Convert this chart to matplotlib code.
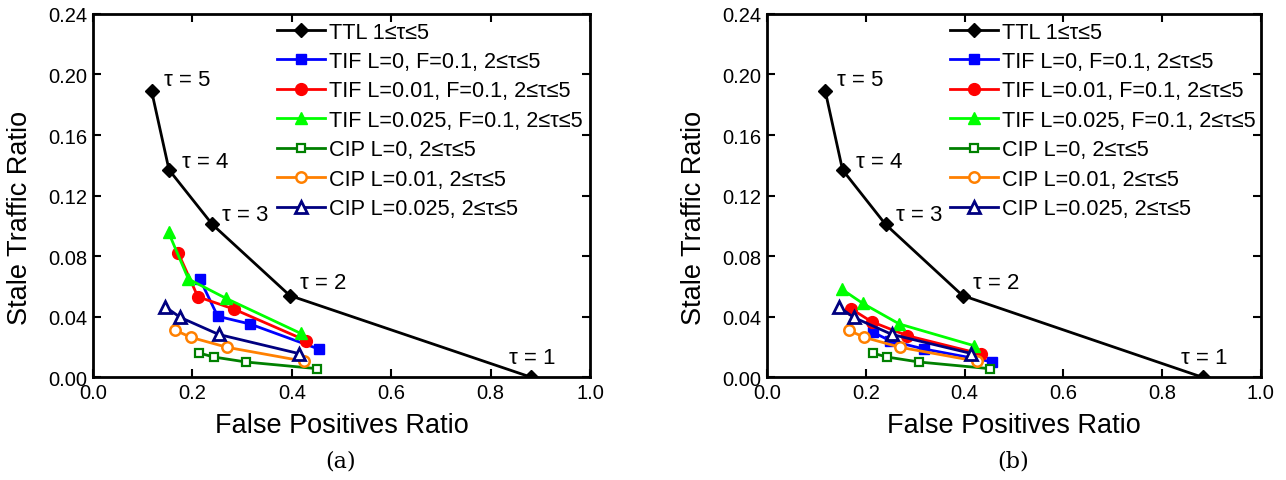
import numpy as np
import matplotlib
matplotlib.use('Agg')
import matplotlib.pyplot as plt

plt.rcParams['font.family'] = ['Liberation Sans', 'DejaVu Sans']

# --- DATA ---
# TTL, 1 <= tau <= 5 (same in both panels)
ttl_x = [0.118, 0.153, 0.240, 0.396, 0.882]
ttl_y = [0.189, 0.137, 0.101, 0.054, 0.000]
ttl_tau = [5, 4, 3, 2, 1]

# CIP (same in both panels), 2 <= tau <= 5
cip0_x = [0.214, 0.243, 0.308, 0.451]
cip0_y = [0.0160, 0.0134, 0.0101, 0.0057]
cip01_x = [0.166, 0.197, 0.270, 0.425]
cip01_y = [0.0310, 0.0264, 0.0198, 0.0106]
cip025_x = [0.145, 0.176, 0.253, 0.414]
cip025_y = [0.0466, 0.0395, 0.0283, 0.0157]

# TIF panel (a)
a_tif0_x = [0.215, 0.251, 0.316, 0.454]
a_tif0_y = [0.0649, 0.0403, 0.0352, 0.0187]
a_tif01_x = [0.172, 0.211, 0.283, 0.429]
a_tif01_y = [0.0818, 0.0532, 0.0451, 0.0242]
a_tif025_x = [0.152, 0.192, 0.268, 0.418]
a_tif025_y = [0.0957, 0.0649, 0.0521, 0.0290]

# TIF panel (b)
b_tif0_x = [0.215, 0.249, 0.318, 0.455]
b_tif0_y = [0.0297, 0.0242, 0.0187, 0.0103]
b_tif01_x = [0.171, 0.212, 0.284, 0.433]
b_tif01_y = [0.0451, 0.0367, 0.0275, 0.0154]
b_tif025_x = [0.151, 0.194, 0.268, 0.419]
b_tif025_y = [0.0583, 0.0488, 0.0352, 0.0209]

labels = ['TTL 1\u2264\u03c4\u22645',
          'TIF L=0, F=0.1, 2\u2264\u03c4\u22645',
          'TIF L=0.01, F=0.1, 2\u2264\u03c4\u22645',
          'TIF L=0.025, F=0.1, 2\u2264\u03c4\u22645',
          'CIP L=0, 2\u2264\u03c4\u22645',
          'CIP L=0.01, 2\u2264\u03c4\u22645',
          'CIP L=0.025, 2\u2264\u03c4\u22645']

# label offsets (pixels) for the tau annotations
tau_offsets = [(12, 12), (13, 8), (10, 10), (10, 13), (-22, 20)]


def draw_panel(ax, tif0, tif01, tif025):
    ax.plot(ttl_x, ttl_y, color='black', lw=2, marker='D', ms=7.5,
            label=labels[0], zorder=4)
    ax.plot(*tif0, color='#0000ff', lw=2, marker='s', ms=7, label=labels[1])
    ax.plot(*tif01, color='#ff0000', lw=2, marker='o', ms=8.5, label=labels[2])
    ax.plot(*tif025, color='#00ff00', lw=2, marker='^', ms=8.5, label=labels[3])
    ax.plot(cip0_x, cip0_y, color='#008000', lw=2, marker='s', ms=6,
            mfc='white', mew=1.6, label=labels[4])
    ax.plot(cip01_x, cip01_y, color='#ff8000', lw=2, marker='o', ms=7.5,
            mfc='white', mew=1.8, label=labels[5])
    ax.plot(cip025_x, cip025_y, color='#000080', lw=2, marker='^', ms=8.5,
            mfc='white', mew=2, label=labels[6])

    for x, y, t, off in zip(ttl_x, ttl_y, ttl_tau, tau_offsets):
        ax.annotate('\u03c4 = %d' % t, (x, y), xytext=off, textcoords='offset pixels',
                    ha='left', va='center', fontsize=16)

    ax.set_xlim(0, 1.0)
    ax.set_ylim(0, 0.24)
    ax.set_xticks(np.arange(0, 1.01, 0.2))
    ax.set_yticks(np.arange(0, 0.241, 0.04))
    ax.xaxis.set_major_formatter(matplotlib.ticker.FormatStrFormatter('%.1f'))
    ax.yaxis.set_major_formatter(matplotlib.ticker.FormatStrFormatter('%.2f'))
    ax.tick_params(direction='in', length=6, width=1.5, top=True, right=True,
                   labelsize=14.5, pad=4)
    for s in ax.spines.values():
        s.set_linewidth(2)

    ax.set_xlabel('False Positives Ratio', fontsize=19.5)
    ax.set_ylabel('Stale Traffic Ratio', fontsize=19.5)
    ax.xaxis.set_label_coords(0.5, -0.095)
    ax.yaxis.set_label_coords(-0.121, 0.44)

    ax.legend(loc='upper left', bbox_to_anchor=(0.366, 0.985), frameon=False,
              fontsize=15.6, handlelength=2.2, handletextpad=0.2, labelspacing=0.39,
              borderpad=0.1, borderaxespad=0)


fig = plt.figure(figsize=(12.86, 4.81), dpi=100)
ax1 = fig.add_axes([0.0723, 0.2135, 0.3865, 0.7555])
ax2 = fig.add_axes([0.5964, 0.2135, 0.3841, 0.7555])

draw_panel(ax1, (a_tif0_x, a_tif0_y), (a_tif01_x, a_tif01_y), (a_tif025_x, a_tif025_y))
draw_panel(ax2, (b_tif0_x, b_tif0_y), (b_tif01_x, b_tif01_y), (b_tif025_x, b_tif025_y))

fig.text(0.265, 0.04, '(a)', ha='center', va='center', fontsize=16, family='DejaVu Serif')
fig.text(0.788, 0.04, '(b)', ha='center', va='center', fontsize=16, family='DejaVu Serif')

plt.savefig('out.png', dpi=100)
plt.close()
